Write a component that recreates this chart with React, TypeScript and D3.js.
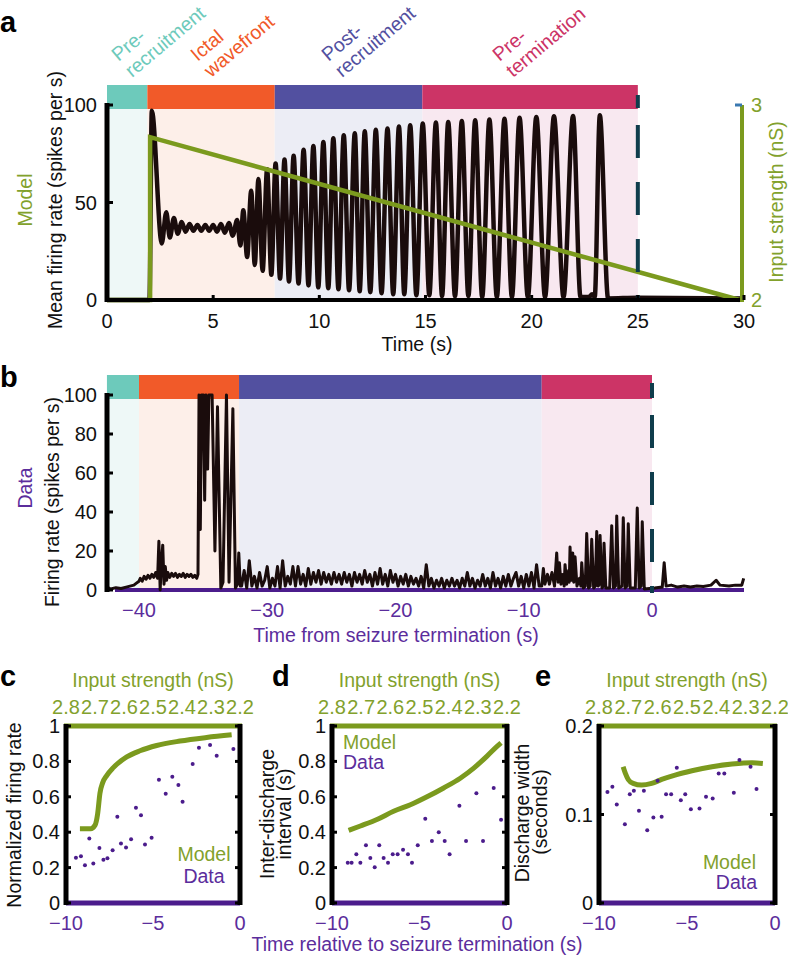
import React from 'react';
import * as d3 from 'd3';

const FONT = "'Liberation Sans', Arial, Helvetica, sans-serif";
const GREEN = '#7b9a1e';
const GREEN_TXT = '#82a12c';
const PURPLE = '#4b1c8c';
const PURPLE_TXT = '#5b2d9c';
const TRACE = '#1a0c0c';
const DASH = '#0f3d4c';

// ---------- phases ----------
const phaseNames = [['Pre-', 'recruitment'], ['Ictal', 'wavefront'], ['Post-', 'recruitment'], ['Pre-', 'termination']];
const phaseColors = ['#6dcabb', '#f15a29', '#5250a0', '#cc3466'];
const phaseBgColors = ['#eef8f7', '#fdefe9', '#ecedf5', '#f8e8f0'];
const phaseBoundsA = [0, 1.9, 7.9, 14.85, 25];
const phaseBoundsB = [-42.5, -40, -32.2, -8.6, 0];

// ---------- panel a: model ----------
const modelTrace = [
  [0, 0], [2.0, 0], [2.11, 97], [2.58, 29], [2.79, 45], [2.96, 32], [3.15, 42], [3.33, 34], [3.52, 40], [3.70, 35],
  [3.89, 39], [4.07, 35.5], [4.26, 38.5], [4.44, 35.5], [4.63, 38.5], [4.81, 35.5], [5.0, 38.5], [5.18, 35], [5.37, 39],
  [5.55, 34.5], [5.74, 39.5], [5.92, 33], [6.13, 41], [6.28, 28], [6.42, 46], [6.6, 22], [6.79, 56], [6.96, 18],
  [7.13, 62], [7.33, 15], [7.54, 67], [7.74, 13], [7.94, 70], [8.15, 11], [8.36, 72], [8.57, 9.5], [8.79, 74], [9.02, 8.5],
  [9.26, 77], [9.49, 7.5], [9.72, 79], [9.95, 6.5], [10.19, 81], [10.42, 6], [10.66, 83], [10.9, 5.5], [11.15, 84.5],
  [11.4, 5], [11.67, 85.5], [11.9, 4.5], [12.14, 86.5], [12.4, 4], [12.66, 87.3], [12.93, 3.5], [13.21, 88], [13.48, 3],
  [13.75, 89], [14.0, 3], [14.28, 89.6], [14.57, 2.5], [14.87, 90.5], [15.18, 2.5], [15.49, 91], [15.78, 2], [16.07, 91.3],
  [16.39, 2], [16.71, 91.8], [17.02, 2], [17.34, 92.2], [17.67, 1.5], [18.01, 92.6], [18.36, 1.5], [18.72, 93],
  [19.07, 1.5], [19.43, 93.4], [19.82, 1.5], [20.22, 93.9], [20.63, 1.5], [21.05, 94.2], [21.5, 1.5], [21.95, 94.4],
  [22.3, 1.5], [22.7, 1.5], [22.85, 3], [22.97, 1.5], [23.21, 94.7], [23.6, 0.8], [25, 1.2], [30, 0.8],
];
const inputVertices = [[0, 2], [2.03, 2], [2.03, 2.835], [29.8, 2]];
const aYTicks = [0, 50, 100];
const aXTicks = [0, 5, 10, 15, 20, 25, 30];
const inputTicks = [2, 3];

// ---------- panel b: data ----------
const bTraceOnset = [
  [-42.5, 1.5], [-42.2, 0.5], [-41.8, 1.2], [-41.4, 0.8], [-41.0, 1.5], [-40.7, 2], [-40.4, 2.5], [-40.2, 3.5],
  [-40.0, 4.5], [-39.9, 6], [-39.75, 4.5], [-39.6, 7], [-39.45, 5.5], [-39.3, 7.5], [-39.15, 6], [-39.0, 8],
  [-38.85, 6.5], [-38.7, 9], [-38.55, 6], [-38.45, 25], [-38.35, 0], [-38.25, 14], [-38.15, 23], [-38.05, 3],
  [-37.95, 12], [-37.85, 5], [-37.75, 9], [-37.6, 6.5], [-37.45, 8.5], [-37.3, 7], [-37.15, 8.5], [-37.0, 6.5],
  [-36.85, 8], [-36.7, 7], [-36.55, 8.5], [-36.4, 6.5], [-36.25, 8], [-36.1, 7], [-35.95, 8], [-35.8, 6.5],
  [-35.65, 7.5], [-35.5, 6], [-35.4, 8],
  [-35.32, 100], [-35.22, 31], [-35.12, 100], [-34.98, 100], [-34.88, 46], [-34.78, 100], [-34.65, 62],
  [-34.55, 100], [-34.3, 100], [-34.08, 20], [-33.88, 94], [-33.62, 1], [-33.45, 4], [-33.18, 100], [-32.98, 4],
  [-32.68, 93], [-32.48, 1], [-32.32, 3], [-32.22, 19], [-32.1, 2],
];
const bNoiseStart = -32.0;
const bNoiseStep = 0.2;
const bNoiseValues = [
  2, 10, 1, 15, 2, 7, 1, 9, 2, 5, 12, 1, 6, 2, 12, 1, 15, 2, 7, 3, 12, 2, 12, 3, 8, 2, 11, 3, 9, 4,
  10, 3, 9, 4, 8, 3, 9, 4, 8, 3, 9, 4, 8, 2, 9, 4, 8, 3, 10, 4, 8, 2, 9, 3, 11, 3, 8, 2, 10, 4,
  8, 2, 7, 3, 8, 2, 7, 3, 6, 2, 7, 1, 13, 2, 6, 1, 5, 2, 6, 1, 5, 2, 6, 2, 5, 1, 6, 2, 9, 2,
  6, 1, 5, 2, 8, 2, 6, 1, 9, 2, 6, 1, 7, 2, 8, 2, 6, 9, 2, 7, 1, 8, 2, 9, 1, 13, 2,
];
const bTraceEnd = [
  [-8.6, 2], [-8.47, 11], [-8.35, 3], [-8.15, 8], [-8.0, 3], [-7.8, 9], [-7.6, 2], [-7.43, 19], [-7.32, 4],
  [-7.22, 14], [-7.1, 3], [-6.95, 8], [-6.85, 2], [-6.78, 13], [-6.65, 3], [-6.5, 10], [-6.45, 4], [-6.39, 22],
  [-6.3, 5], [-6.18, 19], [-6.1, 4], [-6.0, 17], [-5.85, 2], [-5.65, 6], [-5.55, 2], [-5.48, 14], [-5.35, 1],
  [-5.2, 2], [-5.09, 29], [-4.95, 1], [-4.82, 2], [-4.7, 26], [-4.55, 1], [-4.42, 2], [-4.31, 30], [-4.2, 2],
  [-4.1, 3], [-4.05, 28], [-3.9, 1], [-3.8, 2], [-3.74, 24], [-3.6, 1], [-3.3, 1], [-3.14, 33], [-3.0, 1],
  [-2.85, 2], [-2.75, 38], [-2.6, 1], [-2.35, 2], [-2.24, 37], [-2.1, 1], [-1.95, 2], [-1.85, 34], [-1.7, 1],
  [-1.3, 1], [-1.15, 42], [-1.0, 1], [-0.85, 2], [-0.76, 35], [-0.6, 0.5], [0.2, 1], [0.8, 1.5], [0.95, 14],
  [1.1, 2], [1.5, 2.5], [2.0, 1.5], [2.5, 2], [3.0, 1.5], [3.5, 2], [4.0, 1.8], [4.6, 2.5], [5.0, 5], [5.3, 2.5],
  [6.0, 2], [6.5, 2.5], [7.0, 2.5], [7.15, 6],
];
const bYTicks = [0, 20, 40, 60, 80, 100];
const bXTicks = [-40, -30, -20, -10, 0];

// ---------- panels c, d, e ----------
const inputTickLabels = ['2.8', '2.7', '2.6', '2.5', '2.4', '2.3', '2.2'];
const cdeXTicks = [-10, -5, 0];

const cModel = [[-9.2, 0.42], [-8.58, 0.42], [-8.33, 0.44], [-8.18, 0.505], [-8.05, 0.62], [-7.89, 0.68],
  [-7.66, 0.72], [-7.28, 0.765], [-6.51, 0.825], [-5.75, 0.86], [-4.79, 0.89], [-3.45, 0.915], [-1.92, 0.935], [-0.48, 0.95]];
const cDataT = [-9.43, -9.14, -8.91, -8.66, -8.43, -8.08, -7.85, -7.62, -7.32, -7.05, -6.84, -6.55, -6.26, -5.98,
  -5.69, -5.46, -5.08, -4.66, -4.27, -3.89, -3.54, -3.30, -2.72, -2.36, -1.72, -1.34, -0.71, -0.38];
const cDataV = [0.255, 0.264, 0.213, 0.364, 0.223, 0.311, 0.245, 0.253, 0.298, 0.487, 0.336, 0.313, 0.36, 0.538,
  0.496, 0.33, 0.368, 0.696, 0.617, 0.713, 0.666, 0.572, 0.785, 0.877, 0.892, 0.832, 1.0, 0.87];

const dModel = [[-9.05, 0.41], [-8.38, 0.435], [-7.43, 0.472], [-6.48, 0.518], [-5.52, 0.555], [-4.57, 0.60],
  [-3.62, 0.65], [-2.67, 0.705], [-1.90, 0.762], [-1.14, 0.83], [-0.57, 0.885], [-0.34, 0.905]];
const dDataT = [-9.10, -8.88, -8.61, -8.38, -8.06, -7.81, -7.56, -7.30, -7.05, -6.80, -6.53, -6.25, -5.94, -5.66,
  -5.43, -5.10, -4.67, -4.29, -3.90, -3.56, -3.28, -2.72, -2.34, -1.75, -1.37, -0.76, -0.34];
const dDataV = [0.228, 0.228, 0.275, 0.228, 0.326, 0.254, 0.202, 0.326, 0.254, 0.228, 0.275, 0.275, 0.301, 0.275,
  0.228, 0.326, 0.476, 0.35, 0.40, 0.35, 0.275, 0.55, 0.35, 0.62, 0.35, 0.65, 0.47];

const eModel = [[-8.63, 0.154], [-8.50, 0.1464], [-8.34, 0.1396], [-8.06, 0.1351], [-7.58, 0.1332], [-7.01, 0.1351],
  [-6.44, 0.1396], [-5.68, 0.1445], [-4.72, 0.1494], [-3.58, 0.154], [-2.44, 0.157], [-1.30, 0.1585], [-0.69, 0.1577]];
const eDataT = [-9.52, -9.24, -8.99, -8.53, -8.25, -8.02, -7.73, -7.45, -7.26, -6.91, -6.67, -6.44, -6.19, -5.90,
  -5.58, -5.35, -5.10, -4.78, -4.29, -3.92, -3.54, -3.20, -2.88, -2.34, -2.02, -1.39, -1.05];
const eDataV = [0.1253, 0.1313, 0.1113, 0.0891, 0.1230, 0.1268, 0.1042, 0.1268, 0.0823, 0.0966, 0.1381, 0.0974,
  0.1230, 0.1230, 0.1528, 0.1162, 0.1230, 0.1060, 0.1068, 0.1200, 0.1181, 0.1464, 0.1464, 0.1245, 0.1615, 0.1540, 0.1287];

const FS = 19.5;

function Txt(props: any) {
  return <text fontFamily={FONT} fontSize={FS} {...props} />;
}

function RotLabel({ x, y, fill = '#111', children, size = FS }: any) {
  return (
    <text transform={`translate(${x},${y}) rotate(-90)`} textAnchor="middle" fontFamily={FONT} fontSize={size} fill={fill}>
      {children}
    </text>
  );
}

const fmtTick = (v: number) => (v < 0 ? '\u2212' + Math.abs(v) : String(v));

const TOP = 726;
const BOTTOM = 903;

function SmallPanel(p: {
  left: number; right: number; yMax: number; yTicks: number[]; model: number[][];
  dotsT: number[]; dotsV: number[]; children?: any;
}) {
  const x = d3.scaleLinear().domain([-10, 0]).range([p.left, p.right]);
  const y = d3.scaleLinear().domain([0, p.yMax]).range([BOTTOM, TOP]);
  const topPos = d3.scaleLinear().domain([0, inputTickLabels.length - 1]).range([p.left, p.right]);
  const line = d3.line<number[]>().x(d => x(d[0])).y(d => y(d[1])).curve(d3.curveMonotoneX);
  return (
    <g>
      <Txt x={(p.left + p.right) / 2} y={687} textAnchor="middle" fill={GREEN_TXT}>Input strength (nS)</Txt>
      {inputTickLabels.map((l, i) => (
        <Txt key={i} x={topPos(i)} y={714} textAnchor="middle" fill={GREEN_TXT} fontSize={20}>{l}</Txt>
      ))}
      <path d={line(p.model) || ''} fill="none" stroke={GREEN} strokeWidth={5} />
      {p.dotsT.map((t, i) => (
        <circle key={i} cx={x(t)} cy={y(p.dotsV[i])} r={2} fill={PURPLE} />
      ))}
      <line x1={p.left - 2} x2={p.right + 2} y1={TOP} y2={TOP} stroke={GREEN} strokeWidth={5} />
      <line x1={p.left} x2={p.right} y1={BOTTOM} y2={BOTTOM} stroke={PURPLE} strokeWidth={5} />
      <line x1={p.left} x2={p.left} y1={TOP - 2} y2={BOTTOM + 2} stroke="#000" strokeWidth={5} />
      <line x1={p.right} x2={p.right} y1={TOP - 2} y2={BOTTOM + 2} stroke="#000" strokeWidth={5} />
      {p.yTicks.map((v, i) => (
        <g key={i}>
          <line x1={p.left} x2={p.left + 5} y1={y(v)} y2={y(v)} stroke="#000" strokeWidth={3} />
          <line x1={p.right - 5} x2={p.right} y1={y(v)} y2={y(v)} stroke="#000" strokeWidth={3} />
          <Txt x={p.left - 6} y={y(v)} dy="0.35em" textAnchor="end" fill="#111" fontSize={20}>{String(v)}</Txt>
        </g>
      ))}
      {cdeXTicks.map((v, i) => (
        <Txt key={i} x={x(v)} y={930} textAnchor="middle" fill={PURPLE_TXT} fontSize={20}>{fmtTick(v)}</Txt>
      ))}
      {p.children}
    </g>
  );
}

export default function App() {
  const xA = d3.scaleLinear().domain([0, 30]).range([107, 744]);
  const yA = d3.scaleLinear().domain([0, 100]).range([300, 105]);
  const yIn = d3.scaleLinear().domain([2, 3]).range([300, 105]);
  const xB = d3.scaleLinear().domain([-40, 0]).range([139, 652]);
  const yB = d3.scaleLinear().domain([0, 100]).range([590, 395]);

  const lineA = d3.line<number[]>().x(d => xA(d[0])).y(d => yA(d[1])).curve(d3.curveMonotoneX);
  const lineIn = d3.line<number[]>().x(d => xA(d[0])).y(d => yIn(d[1]));
  const lineB = d3.line<number[]>().x(d => xB(d[0])).y(d => yB(d[1]));

  const bTrace = [
    ...bTraceOnset,
    ...bNoiseValues.map((v, i) => [bNoiseStart + i * bNoiseStep, v]),
    ...bTraceEnd,
  ];

  const labelStartX = [118.5, 197.5, 328.5, 499.5];
  const labelStartY = 62;

  return (
    <svg width={788} height={958} style={{ position: 'absolute', left: 0, top: 0, background: '#fff' }}
      fontFamily={FONT}>
      <rect x={0} y={0} width={788} height={958} fill="#fff" />

      {/* ================= panel a ================= */}
      <text x={0} y={32} fontFamily={FONT} fontSize={29} fontWeight="bold">a</text>
      {phaseNames.map((_, i) => (
        <g key={i}>
          <rect x={xA(phaseBoundsA[i])} y={109} width={xA(phaseBoundsA[i + 1]) - xA(phaseBoundsA[i])} height={191}
            fill={phaseBgColors[i]} />
          <rect x={xA(phaseBoundsA[i])} y={85} width={xA(phaseBoundsA[i + 1]) - xA(phaseBoundsA[i])} height={24}
            fill={phaseColors[i]} />
          <g transform={`translate(${labelStartX[i]},${labelStartY}) rotate(-40)`}>
            <Txt x={0} y={0} fill={phaseColors[i]}>{phaseNames[i][0]}</Txt>
            <Txt x={0} y={21} fill={phaseColors[i]}>{phaseNames[i][1]}</Txt>
          </g>
        </g>
      ))}
      <path d={lineA(modelTrace) || ''} fill="none" stroke={TRACE} strokeWidth={4.5} strokeLinejoin="round" />
      <path d={lineIn(inputVertices) || ''} fill="none" stroke={GREEN} strokeWidth={4.5} />
      <line x1={xA(25)} x2={xA(25)} y1={95} y2={302} stroke={DASH} strokeWidth={4}
        strokeDasharray="13 17 33 24 33 24 33 23 33" />
      {/* axes */}
      <line x1={107} x2={107} y1={103} y2={302} stroke="#000" strokeWidth={5} />
      <line x1={105} x2={xA(30) - 4} y1={300} y2={300} stroke="#000" strokeWidth={4} />
      <line x1={xA(30) - 2} x2={xA(30) - 2} y1={105} y2={302} stroke={GREEN} strokeWidth={4} />
      <line x1={xA(30) - 9} x2={xA(30) - 2} y1={105} y2={105} stroke="#3a78b0" strokeWidth={3} />
      {aYTicks.map((v, i) => (
        <g key={i}>
          <line x1={107} x2={113} y1={yA(v)} y2={yA(v)} stroke="#000" strokeWidth={3} />
          <Txt x={97} y={yA(v)} dy="0.35em" textAnchor="end" fill="#111" fontSize={20}>{v}</Txt>
        </g>
      ))}
      {aXTicks.map((v, i) => (
        <g key={i}>
          <line x1={xA(v)} x2={xA(v)} y1={300} y2={295} stroke="#000" strokeWidth={3} />
          <Txt x={xA(v)} y={328} textAnchor="middle" fill="#111" fontSize={20}>{v}</Txt>
        </g>
      ))}
      {inputTicks.map((v, i) => (
        <Txt key={i} x={751} y={yIn(v)} dy="0.35em" textAnchor="start" fill={GREEN_TXT} fontSize={20}>{v}</Txt>
      ))}
      <Txt x={417} y={351} textAnchor="middle" fill="#111">Time (s)</Txt>
      <RotLabel x={62} y={200} fill="#111">Mean firing rate (spikes per s)</RotLabel>
      <RotLabel x={32} y={200} fill={GREEN_TXT}>Model</RotLabel>
      <RotLabel x={783} y={202} fill={GREEN_TXT}>Input strength (nS)</RotLabel>

      {/* ================= panel b ================= */}
      <text x={0} y={387} fontFamily={FONT} fontSize={29} fontWeight="bold">b</text>
      {phaseNames.map((_, i) => (
        <g key={i}>
          <rect x={xB(phaseBoundsB[i])} y={399} width={xB(phaseBoundsB[i + 1]) - xB(phaseBoundsB[i])} height={191}
            fill={phaseBgColors[i]} />
          <rect x={xB(phaseBoundsB[i])} y={375} width={xB(phaseBoundsB[i + 1]) - xB(phaseBoundsB[i])} height={24}
            fill={phaseColors[i]} />
        </g>
      ))}
      <line x1={115} x2={744} y1={590} y2={590} stroke={PURPLE} strokeWidth={4} />
      <path d={lineB(bTrace) || ''} fill="none" stroke={TRACE} strokeWidth={3} strokeLinejoin="round" />
      <line x1={xB(0)} x2={xB(0)} y1={383} y2={593} stroke={DASH} strokeWidth={4}
        strokeDasharray="15 17 33 24 33 24 33 24 33" />
      <line x1={107} x2={107} y1={393} y2={592} stroke="#000" strokeWidth={5} />
      {bYTicks.map((v, i) => (
        <g key={i}>
          <line x1={107} x2={113} y1={yB(v)} y2={yB(v)} stroke="#000" strokeWidth={3} />
          <Txt x={97} y={yB(v)} dy="0.35em" textAnchor="end" fill="#111" fontSize={20}>{v}</Txt>
        </g>
      ))}
      {bXTicks.map((v, i) => (
        <Txt key={i} x={xB(v)} y={617} textAnchor="middle" fill={PURPLE_TXT} fontSize={20}>{fmtTick(v)}</Txt>
      ))}
      <Txt x={396} y={642} textAnchor="middle" fill={PURPLE_TXT}>Time from seizure termination (s)</Txt>
      <RotLabel x={59} y={502} fill="#111">Firing rate (spikes per s)</RotLabel>
      <RotLabel x={32} y={488} fill={PURPLE_TXT}>Data</RotLabel>

      {/* ================= panels c, d, e ================= */}
      <text x={0} y={686} fontFamily={FONT} fontSize={29} fontWeight="bold">c</text>
      <text x={272} y={686} fontFamily={FONT} fontSize={29} fontWeight="bold">d</text>
      <text x={535} y={686} fontFamily={FONT} fontSize={29} fontWeight="bold">e</text>

      <SmallPanel left={66} right={240} yMax={1} yTicks={[0, 0.2, 0.4, 0.6, 0.8, 1]} model={cModel}
        dotsT={cDataT} dotsV={cDataV}>
        <Txt x={204} y={861} textAnchor="middle" fill={GREEN_TXT}>Model</Txt>
        <Txt x={204} y={883} textAnchor="middle" fill={PURPLE_TXT}>Data</Txt>
      </SmallPanel>
      <RotLabel x={21} y={815} fill="#111">Normalized firing rate</RotLabel>

      <SmallPanel left={332} right={507} yMax={1} yTicks={[0, 0.2, 0.4, 0.6, 0.8, 1]} model={dModel}
        dotsT={dDataT} dotsV={dDataV}>
        <Txt x={343} y={749} textAnchor="start" fill={GREEN_TXT}>Model</Txt>
        <Txt x={343} y={769} textAnchor="start" fill={PURPLE_TXT}>Data</Txt>
      </SmallPanel>
      <RotLabel x={274} y={814} fill="#111">Inter-discharge</RotLabel>
      <RotLabel x={291} y={814} fill="#111">interval (s)</RotLabel>

      <SmallPanel left={599} right={775} yMax={0.2} yTicks={[0, 0.1, 0.2]} model={eModel}
        dotsT={eDataT} dotsV={eDataV}>
        <Txt x={756} y={869} textAnchor="end" fill={GREEN_TXT}>Model</Txt>
        <Txt x={757} y={889} textAnchor="end" fill={PURPLE_TXT}>Data</Txt>
      </SmallPanel>
      <RotLabel x={529} y={813} fill="#111">Discharge width</RotLabel>
      <RotLabel x={547} y={812} fill="#111">(seconds)</RotLabel>

      <Txt x={417} y={951} textAnchor="middle" fill={PURPLE_TXT}>Time relative to seizure termination (s)</Txt>
    </svg>
  );
}
